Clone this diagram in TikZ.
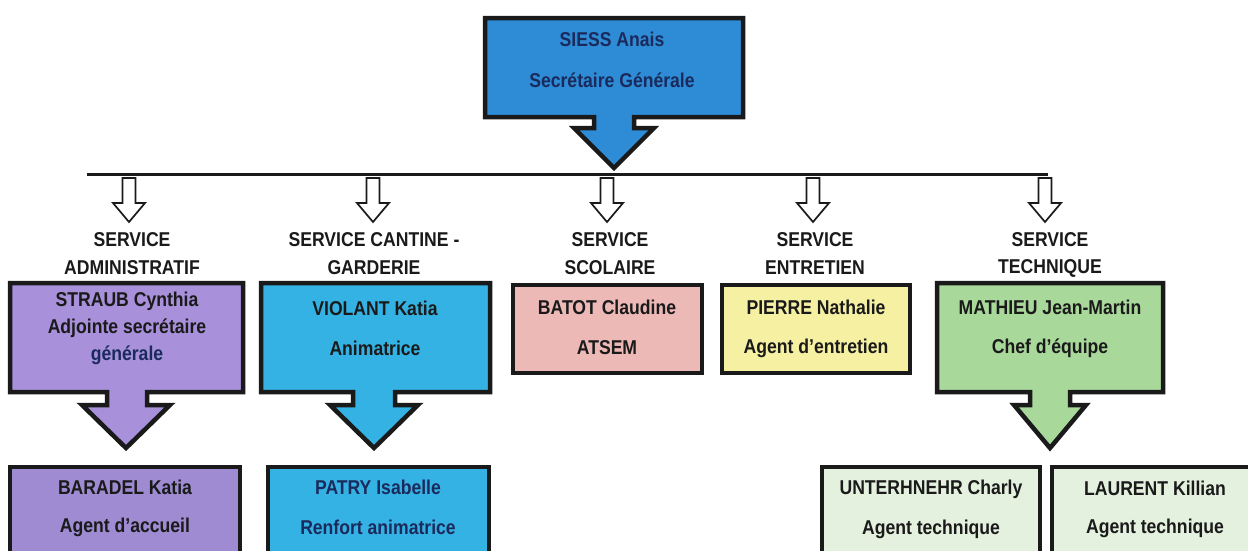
\documentclass[tikz,border=0pt]{standalone}
\usepackage{fontspec}
\setmainfont{Liberation Sans}[FakeStretch=0.88]
\definecolor{navy}{HTML}{1B2A5C}
\definecolor{ink}{HTML}{1A1A1A}
\definecolor{topblue}{HTML}{2E8CD6}
\definecolor{lav}{HTML}{A890DA}
\definecolor{lavdark}{HTML}{9E8BD2}
\definecolor{cyanb}{HTML}{35B2E4}
\definecolor{pinkb}{HTML}{EDB9B7}
\definecolor{yellowb}{HTML}{F5F0A2}
\definecolor{greenb}{HTML}{A9D89B}
\definecolor{paleg}{HTML}{E5F1DF}
\tikzset{
  boxline/.style={draw=ink, line width=4.5pt, line join=miter},
  txt/.style={font=\fontsize{20}{22}\selectfont\bfseries, text=ink, inner sep=0pt, anchor=center},
  navytxt/.style={txt, text=navy},
  hollow/.style={draw=ink, line width=1.7pt, fill=white, line join=miter},
}
\begin{document}
\begin{tikzpicture}[x=1pt,y=-1pt]
\useasboundingbox (0,0) rectangle (1248,550);
\clip (0,0) rectangle (1248,550);
\fill[white] (0,0) rectangle (1248,550);

% top callout
\draw[boxline, fill=topblue] (485,18) -- (743,18) -- (743,117) -- (634,117) -- (634,128) -- (654,128) -- (614,168) -- (574,128) -- (594,128) -- (594,117) -- (485,117) -- cycle;
\node[navytxt] (siess) at (612,39) {SIESS Anais};
\node[navytxt] (sg) at (612,80) {Secrétaire Générale};

% horizontal line
\coordinate (hl) at (87,174);
\coordinate (hr) at (1048,174);
\draw[ink, line width=3pt] (hl) -- (hr);

% hollow arrows
\foreach \cx/\nm in {129/a1,373/a2,607/a3,813/a4,1045/a5}{
  \draw[hollow] (\cx-6.5,178) -- (\cx+6.5,178) -- (\cx+6.5,203) -- (\cx+16,203) -- (\cx,222) -- (\cx-16,203) -- (\cx-6.5,203) -- cycle;
}

% service labels
\node[txt] (s1a) at (132,240) {SERVICE};
\node[txt] (s1b) at (132,268) {ADMINISTRATIF};
\node[txt] (s2a) at (374,240) {SERVICE CANTINE -};
\node[txt] (s2b) at (374,268) {GARDERIE};
\node[txt] (s3a) at (610,240) {SERVICE};
\node[txt] (s3b) at (610,268) {SCOLAIRE};
\node[txt] (s4a) at (815,240) {SERVICE};
\node[txt] (s4b) at (815,268) {ENTRETIEN};
\node[txt] (s5a) at (1050,240) {SERVICE};
\node[txt] (s5b) at (1050,268) {TECHNIQUE};

% row 1
\draw[boxline, fill=lav] (10,283) -- (243,283) -- (243,392) -- (147,392) -- (147,405) -- (170,405) -- (126,448) -- (82,405) -- (107,405) -- (107,392) -- (10,392) -- cycle;
\node[txt] (straub) at (127,301) {STRAUB Cynthia};
\node[txt] (straubr1) at (127,328) {Adjointe secrétaire};
\node[navytxt] (straubr2) at (127,355) {générale};

\draw[boxline, fill=cyanb] (261,283) -- (490,283) -- (490,392) -- (395,392) -- (395,405) -- (418,405) -- (374,448) -- (330,405) -- (353,405) -- (353,392) -- (261,392) -- cycle;
\node[txt] (violant) at (375,308) {VIOLANT Katia};
\node[txt] (violantr) at (375,348) {Animatrice};

\draw[boxline, fill=pinkb] (513,285) rectangle (702,373);
\node[txt] (batot) at (607,307) {BATOT Claudine};
\node[txt] (batotr) at (607,348) {ATSEM};

\draw[boxline, fill=yellowb] (722,285) rectangle (910,373);
\node[txt] (pierre) at (816,307) {PIERRE Nathalie};
\node[txt] (pierrer) at (816,348) {Agent d'entretien};

\draw[boxline, fill=greenb] (937,283) -- (1163,283) -- (1163,392) -- (1070,392) -- (1070,405) -- (1086,405) -- (1050,448) -- (1014,405) -- (1030,405) -- (1030,392) -- (937,392) -- cycle;
\node[txt] (mathieu) at (1050,307) {MATHIEU Jean-Martin};
\node[txt] (mathieur) at (1050,348) {Chef d'équipe};

% row 2
\draw[boxline, fill=lavdark] (10,467) rectangle (240,570);
\node[txt] (baradel) at (125,487) {BARADEL Katia};
\node[txt] (baradelr) at (125,527) {Agent d'accueil};

\draw[boxline, fill=cyanb] (268,467) rectangle (489,570);
\node[navytxt] (patry) at (378,487) {PATRY Isabelle};
\node[navytxt] (patryr) at (378,527) {Renfort animatrice};

\draw[boxline, fill=paleg] (822,467) rectangle (1040,570);
\node[txt] (unter) at (931,489) {UNTERHNEHR Charly};
\node[txt] (unterr) at (931,529) {Agent technique};

\draw[boxline, fill=paleg] (1052,467) rectangle (1270,570);
\node[txt] (laurent) at (1155,488) {LAURENT Killian};
\node[txt] (laurentr) at (1155,528) {Agent technique};
\end{tikzpicture}
\end{document}
